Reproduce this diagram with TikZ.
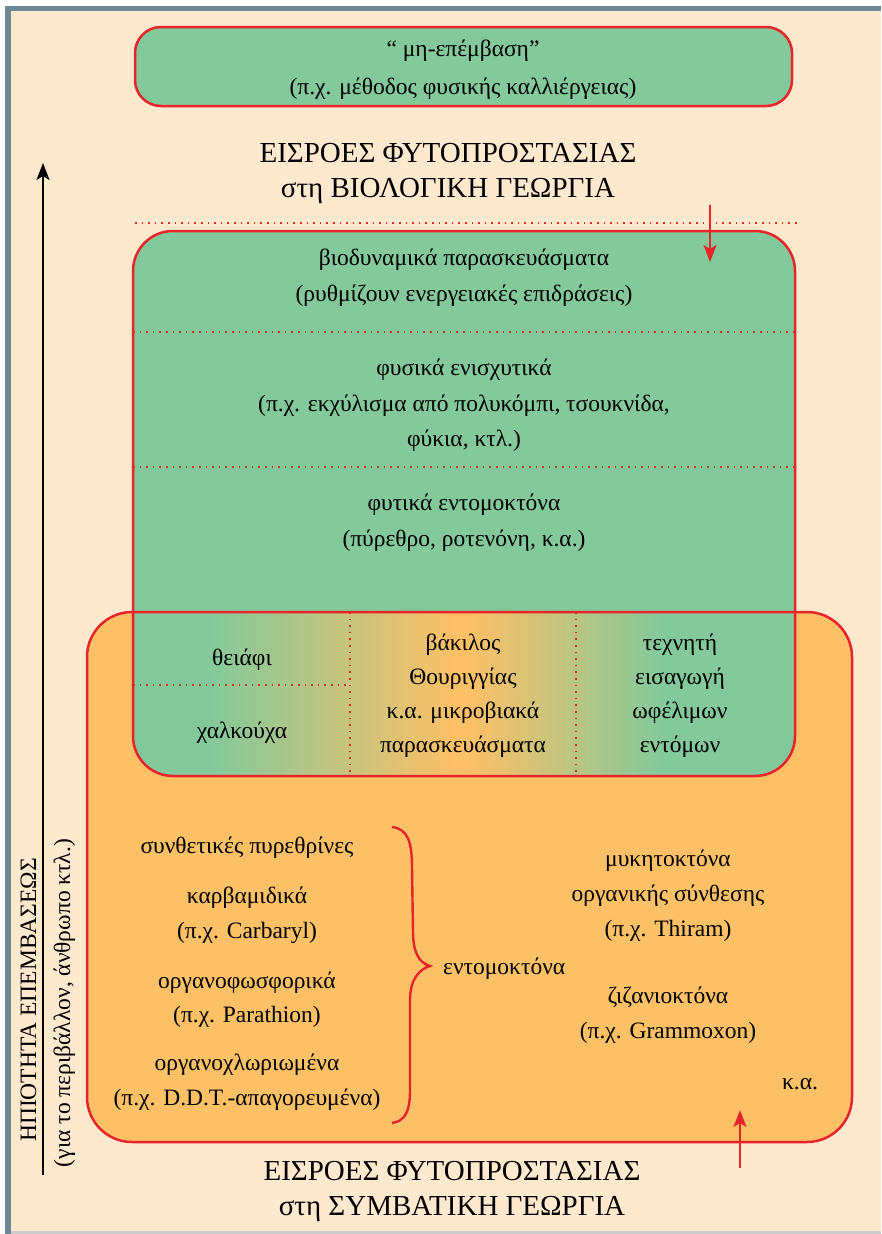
\documentclass[tikz,border=0pt]{standalone}
\usepackage{fontspec}
\setmainfont{Liberation Serif}
\usetikzlibrary{arrows.meta}
\definecolor{peach}{HTML}{FEE9CE}
\definecolor{framecol}{HTML}{6E8896}
\definecolor{gr}{HTML}{84C99B}
\definecolor{orng}{HTML}{FCC067}
\definecolor{rd}{HTML}{E8242B}
\begin{document}
\begin{tikzpicture}[x=1pt,y=-1pt,
  txt/.style={inner sep=0pt,anchor=base,font=\fontsize{23.5}{28}\selectfont},
  ttl/.style={inner sep=0pt,anchor=base,font=\fontsize{29}{34}\selectfont},
  boxline/.style={draw=rd,line width=2.5pt},
  dotline/.style={rd,line width=1.6pt,dash pattern=on 1.6pt off 5pt},
  redarrow/.style={rd,line width=2.4pt,-{Stealth[length=17pt,width=13pt,inset=4pt]}},
  blackarrow/.style={black,line width=2pt,-{Stealth[length=17pt,width=13pt,inset=4pt]}}]
\useasboundingbox (0,0) rectangle (881,1234);
% frame and background
\fill[white] (0,0) rectangle (881,1234);
\fill[framecol] (5,6) rectangle (881,1234);
\fill[peach] (11,11) rectangle (881,1231);
\fill[black!20] (11,1231) rectangle (881,1234);
% top box
\draw[boxline,fill=gr,rounded corners=26pt] (135,27) rectangle (792,106);
\node[txt] (n1) at (463,56) {“ μη-επέμβαση”};
\node[txt] (n2) at (463,94) {(π.χ. μέθοδος φυσικής καλλιέργειας)};
% title top
\node[ttl] (t1) at (448,162) {ΕΙΣΡΟΕΣ ΦΥΤΟΠΡΟΣΤΑΣΙΑΣ};
\node[ttl] (t2) at (448,197) {στη ΒΙΟΛΟΓΙΚΗ ΓΕΩΡΓΙΑ};
\draw[dotline] (135,223) -- (800,223);
% orange box
\fill[orng,rounded corners=45pt] (87,612) rectangle (852,1142);
% green box
\fill[gr,rounded corners=40pt] (133,231) rectangle (795,776);
% overlap gradient
\begin{scope}
  \clip[rounded corners=40pt] (133,231) rectangle (795,776);
  \clip (120,612) rectangle (810,790);
  \fill[left color=gr,right color=orng] (210,612) rectangle (455,790);
  \fill[left color=orng,right color=gr] (470,612) rectangle (660,790);
  \fill[orng] (454,612) rectangle (471,790);
\end{scope}
\draw[boxline,rounded corners=45pt] (87,612) rectangle (852,1142);
\draw[boxline,rounded corners=40pt] (133,231) rectangle (795,776);
\draw[boxline] (133,612) -- (795,612);
% dotted separators in green box
\draw[dotline] (133,332) -- (795,332);
\draw[dotline] (133,467) -- (795,467);
\draw[dotline] (350,612) -- (350,776);
\draw[dotline] (576,612) -- (576,776);
\draw[dotline] (133,685) -- (350,685);
% arrow down
\coordinate (ad1) at (710,205);
\coordinate (ad2) at (710,262);
\draw[redarrow] (ad1) -- (ad2);
% green texts
\node[txt] (g1) at (464,265) {βιοδυναμικά παρασκευάσματα};
\node[txt] (g2) at (464,301) {(ρυθμίζουν ενεργειακές επιδράσεις)};
\node[txt] (g3) at (464,375) {φυσικά ενισχυτικά};
\node[txt] (g4) at (464,411) {(π.χ. εκχύλισμα από πολυκόμπι, τσουκνίδα,};
\node[txt] (g5) at (464,446) {φύκια, κτλ.)};
\node[txt] (g6) at (464,510) {φυτικά εντομοκτόνα};
\node[txt] (g7) at (464,546) {(πύρεθρο, ροτενόνη, κ.α.)};
% overlap texts
\node[txt] (o1) at (242,665) {θειάφι};
\node[txt] (o2) at (242,738) {χαλκούχα};
\node[txt] (m1) at (463,650) {βάκιλος};
\node[txt] (m2) at (463,684) {Θουριγγίας};
\node[txt] (m3) at (463,718) {κ.α. μικροβιακά};
\node[txt] (m4) at (463,752) {παρασκευάσματα};
\node[txt] (r1) at (680,650) {τεχνητή};
\node[txt] (r2) at (680,684) {εισαγωγή};
\node[txt] (r3) at (680,718) {ωφέλιμων};
\node[txt] (r4) at (680,752) {εντόμων};
% orange texts left
\node[txt] (l1) at (247,853) {συνθετικές πυρεθρίνες};
\node[txt] (l2) at (247,903) {καρβαμιδικά};
\node[txt] (l3) at (247,938) {(π.χ. Carbaryl)};
\node[txt] (l4) at (247,988) {οργανοφωσφορικά};
\node[txt] (l5) at (247,1022) {(π.χ. Parathion)};
\node[txt] (l6) at (247,1070) {οργανοχλωριωμένα};
\node[txt] (l7) at (247,1105) {(π.χ. D.D.T.-απαγορευμένα)};
% brace
\draw[rd,line width=2.4pt] (392,827) .. controls (408,829) and (412,842) .. (412,868)
  -- (413,932) .. controls (413,952) and (419,963) .. (430,966)
  .. controls (419,969) and (410,980) .. (410,1000)
  -- (410,1090) .. controls (410,1112) and (405,1121) .. (392,1123);
\node[txt,anchor=base west] (ent) at (443,974) {εντομοκτόνα};
% orange texts right
\node[txt] (q1) at (668,866) {μυκητοκτόνα};
\node[txt] (q2) at (668,901) {οργανικής σύνθεσης};
\node[txt] (q3) at (668,936) {(π.χ. Thiram)};
\node[txt] (q4) at (668,1003) {ζιζανιοκτόνα};
\node[txt] (q5) at (668,1038) {(π.χ. Grammoxon)};
\node[txt] (q6) at (800,1089) {κ.α.};
% arrow up
\coordinate (au1) at (740,1168);
\coordinate (au2) at (740,1110);
\draw[redarrow] (au1) -- (au2);
% bottom title
\node[ttl] (b1) at (452,1180) {ΕΙΣΡΟΕΣ ΦΥΤΟΠΡΟΣΤΑΣΙΑΣ};
\node[ttl] (b2) at (452,1215) {στη ΣΥΜΒΑΤΙΚΗ ΓΕΩΡΓΙΑ};
% left axis
\coordinate (ax1) at (43,1175);
\coordinate (ax2) at (43,163);
\draw[blackarrow] (ax1) -- (ax2);
\node[txt,anchor=base,rotate=90] (v1) at (36,1000) {ΗΠΙΟΤΗΤΑ ΕΠΕΜΒΑΣΕΩΣ};
\node[txt,anchor=base,rotate=90] (v2) at (70,1003) {(για το περιβάλλον, άνθρωπο κτλ.)};
\end{tikzpicture}
\end{document}
